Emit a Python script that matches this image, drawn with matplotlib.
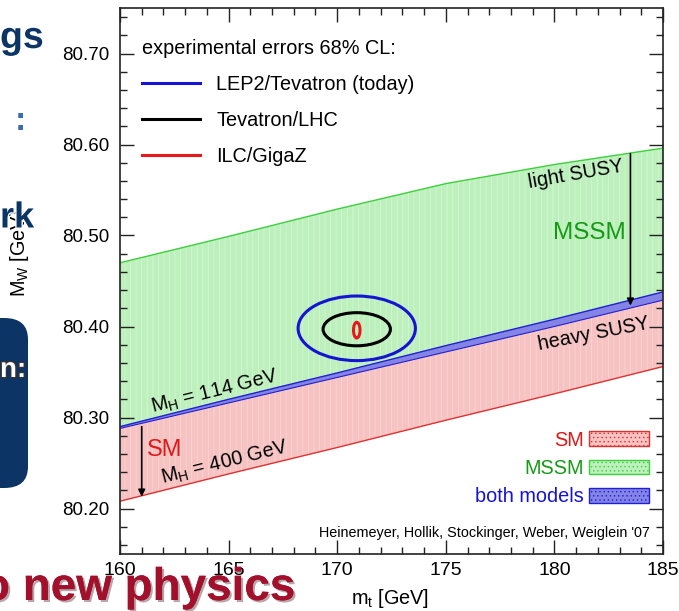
import matplotlib
matplotlib.use("Agg")
import matplotlib.pyplot as plt
import matplotlib.ticker as mticker
import matplotlib.patheffects as pe
from matplotlib.patches import Ellipse, Patch, FancyBboxPatch
from matplotlib.lines import Line2D

plt.rcParams["font.family"] = ["Liberation Sans", "DejaVu Sans"]
plt.rcParams["hatch.linewidth"] = 0.5

# band edges (m_t in GeV, M_W in GeV)
mt = [160, 165, 170, 175, 180, 185]
mssm_upper = [80.470, 80.499, 80.529, 80.557, 80.578, 80.596]   # light SUSY
mssm_lower = [80.288, 80.316, 80.344, 80.372, 80.400, 80.429]   # heavy SUSY
sm_upper = [80.290, 80.320, 80.349, 80.379, 80.408, 80.438]     # M_H = 114 GeV
sm_lower = [80.208, 80.238, 80.267, 80.297, 80.326, 80.356]     # M_H = 400 GeV

# experimental 68% CL ellipses
exp_names = ["LEP2/Tevatron (today)", "Tevatron/LHC", "ILC/GigaZ"]
exp_colors = ["#1414d2", "#000000", "#e8181a"]
exp_mt = [170.9, 170.9, 170.9]
exp_mw = [80.398, 80.397, 80.396]
exp_dmt = [2.70, 1.55, 0.15]
exp_dmw = [0.0355, 0.0182, 0.0086]

# arrows (SM, MSSM)
arrow_mt = [161.0, 183.5]
arrow_from = [80.290, 80.590]
arrow_to = [80.213, 80.423]

model_names = ["SM", "MSSM", "both models"]
model_text = ["#e01818", "#169a16", "#1414d2"]

C = {
    "red_fill": "#f6c2c2", "red_edge": "#e03030", "red_hatch": "#f9d8d8",
    "green_fill": "#bdf0bd", "green_edge": "#3cd03c", "green_hatch": "#d6f8d6",
    "blue_fill": "#8484e6", "blue_edge": "#2020d0", "blue_hatch": "#b0b0f2",
    "frame": "#222222", "navy": "#0c3566", "slide_red": "#a3102c",
}

fig = plt.figure(figsize=(6.79, 6.11), dpi=100)
fig.patch.set_facecolor("white")
ax = fig.add_axes([120 / 679, 57 / 611, 543 / 679, 546 / 611])

# bands
ax.fill_between(mt, mssm_lower, mssm_upper, facecolor=C["green_fill"], edgecolor="none", zorder=1)
ax.fill_between(mt, mssm_lower, mssm_upper, facecolor="none", edgecolor=C["green_hatch"],
                hatch="|||", linewidth=0, zorder=1.1)
ax.fill_between(mt, sm_lower, sm_upper, facecolor=C["red_fill"], edgecolor="none", zorder=1.2)
ax.fill_between(mt, sm_lower, sm_upper, facecolor="none", edgecolor=C["red_hatch"],
                hatch="|||", linewidth=0, zorder=1.3)
ax.fill_between(mt, mssm_lower, sm_upper, facecolor=C["blue_fill"], edgecolor="none", zorder=1.4)
ax.plot(mt, mssm_upper, color=C["green_edge"], lw=1.0, zorder=2)
ax.plot(mt, sm_lower, color=C["red_edge"], lw=1.0, zorder=2)
ax.plot(mt, sm_upper, color=C["blue_edge"], lw=1.0, zorder=2)
ax.plot(mt, mssm_lower, color=C["blue_edge"], lw=0.8, zorder=2)

# ellipses
for x, y, dx, dy, col in zip(exp_mt, exp_mw, exp_dmt, exp_dmw, exp_colors):
    ax.add_patch(Ellipse((x, y), 2 * dx, 2 * dy, facecolor="none", edgecolor=col, lw=2.2, zorder=4))

# arrows
for x, y0, y1 in zip(arrow_mt, arrow_from, arrow_to):
    ax.annotate("", xy=(x, y1), xytext=(x, y0),
                arrowprops=dict(arrowstyle="-|>", color="black", lw=1.2,
                                mutation_scale=10, shrinkA=0, shrinkB=0), zorder=5)

# labels inside the plot
ax.text(181.0, 80.567, "light SUSY", rotation=10, rotation_mode="anchor",
        ha="center", va="center", fontsize=14.3, zorder=6)
ax.text(183.3, 80.503, "MSSM", ha="right", va="center", fontsize=17.5,
        color=model_text[1], zorder=6)
ax.text(181.8, 80.392, "heavy SUSY", rotation=11, rotation_mode="anchor",
        ha="center", va="center", fontsize=14.3, zorder=6)
ax.text(164.37, 80.328, r"M$_{\mathregular{H}}$ = 114 GeV", rotation=14, rotation_mode="anchor",
        ha="center", va="center", fontsize=14.3, zorder=6)
ax.text(164.83, 80.250, r"M$_{\mathregular{H}}$ = 400 GeV", rotation=14, rotation_mode="anchor",
        ha="center", va="center", fontsize=14.3, zorder=6)
ax.text(162.05, 80.264, "SM", ha="center", va="center", fontsize=17,
        color=model_text[0], zorder=6)
ax.text(0.976, 0.0385, "Heinemeyer, Hollik, Stockinger, Weber, Weiglein '07",
        transform=ax.transAxes, ha="right", va="center", fontsize=10.4, zorder=6)

# experiment legend
exp_handles = [Line2D([], [], color=c, lw=2.2) for c in exp_colors]
leg1 = ax.legend(exp_handles, exp_names, title="experimental errors 68% CL:",
                 loc="upper left", bbox_to_anchor=(0.04, 0.944), frameon=False,
                 fontsize=14.3, title_fontsize=14.3, alignment="left",
                 handlelength=2.95, handletextpad=0.8, labelspacing=0.87, borderpad=0,
                 borderaxespad=0)
ax.add_artist(leg1)

# model legend
model_handles = [
    Patch(facecolor=C["red_fill"], edgecolor=C["red_edge"], hatch="....", lw=1.0),
    Patch(facecolor=C["green_fill"], edgecolor=C["green_edge"], hatch="....", lw=1.0),
    Patch(facecolor=C["blue_fill"], edgecolor=C["blue_edge"], hatch="....", lw=1.0),
]
ax.legend(model_handles, model_names, loc="upper right", bbox_to_anchor=(0.975, 0.226),
          frameon=False, fontsize=14.3, labelcolor=model_text, markerfirst=False,
          handlelength=3.05, handleheight=0.75, handletextpad=0.25, labelspacing=0.47,
          borderpad=0, borderaxespad=0)

# axes styling (ROOT-like, ticks on all sides pointing in)
ax.set_xlim(160, 185)
ax.set_ylim(80.15, 80.75)
ax.xaxis.set_major_locator(mticker.MultipleLocator(5))
ax.xaxis.set_minor_locator(mticker.MultipleLocator(1))
ax.yaxis.set_major_locator(mticker.MultipleLocator(0.1))
ax.yaxis.set_minor_locator(mticker.MultipleLocator(0.02))
ax.yaxis.set_major_formatter(mticker.FormatStrFormatter("%.2f"))
ax.tick_params(which="both", direction="in", top=True, right=True,
               labeltop=False, labelright=False, color=C["frame"], width=1.0)
ax.tick_params(which="major", length=10)
ax.tick_params(which="minor", length=5)
ax.tick_params(axis="y", labelsize=13.5, pad=8)
ax.tick_params(axis="x", labelsize=14, pad=6)
for s in ax.spines.values():
    s.set_color(C["frame"])
    s.set_linewidth(1.2)
ax.set_xlabel(r"m$_{\mathregular{t}}$ [GeV]", fontsize=14.3)
ax.xaxis.set_label_coords(0.497, -0.06)
ax.set_ylabel(r"M$_{\mathregular{W}}$ [GeV]", fontsize=14.3)
ax.yaxis.set_label_coords(-0.164, 0.55)

# fragments of the surrounding slide
outline = [pe.withStroke(linewidth=2, foreground="white")]
fig.text(0.0, 1 - 38 / 611, "gs", fontsize=27, fontweight="bold", color=C["navy"],
         va="center", ha="left", path_effects=outline)
fig.text(15 / 679, 1 - 122 / 611, ":", fontsize=24, fontweight="bold", color="#3a6cae",
         va="center", ha="left")
fig.text(0.0, 1 - 218 / 611, "rk", fontsize=26, fontweight="bold", color=C["navy"],
         va="center", ha="left", path_effects=outline, zorder=10)
fig.patches.append(FancyBboxPatch((-30 / 679, 1 - 488 / 611), 58 / 679, 170 / 611,
                                  boxstyle="round,pad=0,rounding_size=0.035",
                                  transform=fig.transFigure, facecolor=C["navy"],
                                  edgecolor="none", figure=fig))
fig.text(0.0, 1 - 370 / 611, "n:", fontsize=20, fontweight="bold", color="white",
         va="center", ha="left",
         path_effects=[pe.withStroke(linewidth=2, foreground="#333333")])
fig.text(-18 / 679, 1 - 588 / 611, "o new physics", fontsize=33, fontweight="bold",
         color=C["slide_red"], va="center", ha="left", zorder=10,
         path_effects=[pe.withSimplePatchShadow(offset=(1.5, -1.5), alpha=0.35), pe.Normal()])

fig.savefig("out.png", dpi=100, facecolor="white")
